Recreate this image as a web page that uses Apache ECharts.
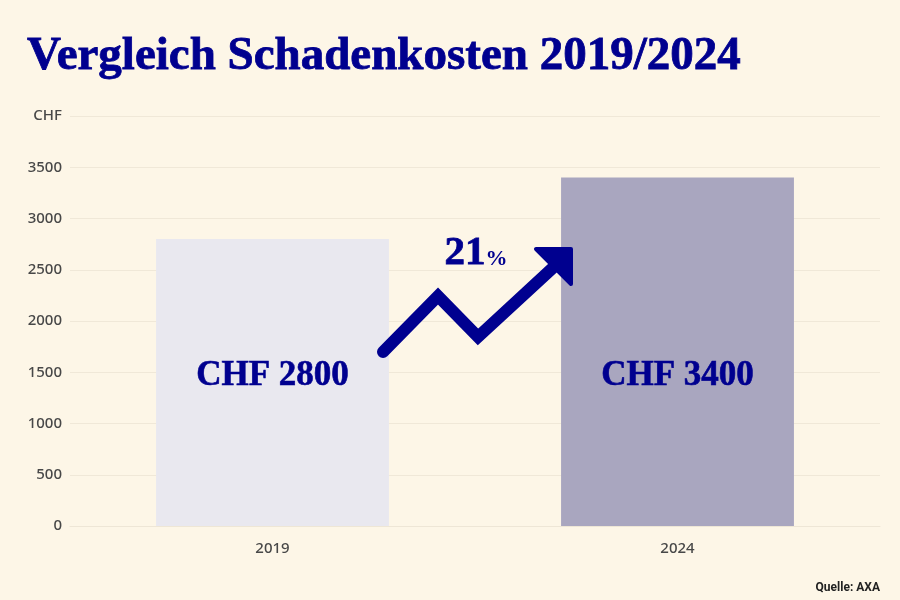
<!DOCTYPE html>
<html>
<head>
<meta charset="utf-8">
<script src="https://cdn.jsdelivr.net/npm/echarts@6/dist/echarts.min.js"></script>
<style>
html,body{margin:0;padding:0;background:#FDF6E7;}
#main{width:900px;height:600px;}
</style>
</head>
<body>
<div id="main"></div>
<script>
const categories = ['2019', '2024'];
const costs = [2800, 3400];
const yTicks = [0, 500, 1000, 1500, 2000, 2500, 3000, 3500, 4000];
const changeLabel = '21';

const NAVY = '#00008F';
const LABEL_Y = 1460;

const chart = echarts.init(document.getElementById('main'));
chart.setOption({
  backgroundColor: '#FDF6E7',
  animation: false,
  title: {
    text: 'Vergleich Schadenkosten 2019/2024',
    left: 22, top: 28,
    textStyle: { fontFamily: 'Liberation Serif', fontWeight: 'bold', fontSize: 47, color: NAVY,
      textBorderColor: NAVY, textBorderWidth: 0.8 }
  },
  grid: { left: 70, right: 20, top: 116, bottom: 74 },
  xAxis: {
    type: 'category',
    data: categories,
    axisLine: { show: true, lineStyle: { color: '#EEE6D6', width: 1 } },
    axisTick: { show: false },
    axisLabel: { color: '#484848', fontSize: 15, fontWeight: 500, fontFamily: 'Noto Sans', margin: 15 }
  },
  yAxis: {
    type: 'value',
    min: yTicks[0], max: yTicks[yTicks.length - 1], interval: 500,
    axisLine: { show: false },
    axisTick: { show: false },
    splitLine: { lineStyle: { color: '#F0E8D8', width: 1 } },
    axisLabel: {
      color: '#484848', fontSize: 15, fontWeight: 500, fontFamily: 'Noto Sans', margin: 8,
      formatter: v => v === yTicks[yTicks.length - 1] ? 'CHF' : String(v)
    }
  },
  series: [
    {
      type: 'bar',
      data: costs.map((v, i) => ({ value: v, itemStyle: { color: i === 0 ? '#E9E8EF' : '#A9A6BF' } })),
      barWidth: '57.5%'
    },
    {
      type: 'scatter',
      symbolSize: 0,
      itemStyle: { opacity: 1 },
      data: categories.map((c, i) => [c, LABEL_Y, costs[i]]),
      label: {
        show: true, position: 'inside', opacity: 1,
        formatter: p => 'CHF ' + p.value[2],
        fontFamily: 'Liberation Serif', fontWeight: 'bold', fontSize: 35, color: NAVY,
        textBorderColor: NAVY, textBorderWidth: 0.6
      },
      emphasis: { disabled: true },
      silent: true,
      z: 5
    }
  ],
  graphic: [
    {
      type: 'polyline',
      shape: { points: [[383, 352], [438, 296], [478, 337], [557, 264]] },
      style: { stroke: NAVY, lineWidth: 12, lineCap: 'round', lineJoin: 'miter', fill: null },
      z: 10
    },
    {
      type: 'polygon',
      shape: { points: [[536, 249], [571, 249], [571, 284]] },
      style: { fill: NAVY, stroke: NAVY, lineWidth: 4, lineJoin: 'round' },
      z: 10
    },
    {
      type: 'text',
      left: 444, top: 233,
      style: {
        text: '{a|' + changeLabel + '}{b|%}',
        rich: {
          a: { fontFamily: 'Liberation Serif', fontWeight: 'bold', fontSize: 41, fill: NAVY, stroke: NAVY, lineWidth: 0.8 },
          b: { fontFamily: 'Liberation Serif', fontWeight: 'bold', fontSize: 22, fill: NAVY, verticalAlign: 'bottom', padding: [0,0,4,0] }
        }
      },
      z: 10
    },
    {
      type: 'text',
      right: 20, top: 582,
      style: { text: 'Quelle: AXA', fontFamily: 'Roboto', fontWeight: 'bold', fontSize: 12, fill: '#222' }
    }
  ]
});
</script>
</body>
</html>
